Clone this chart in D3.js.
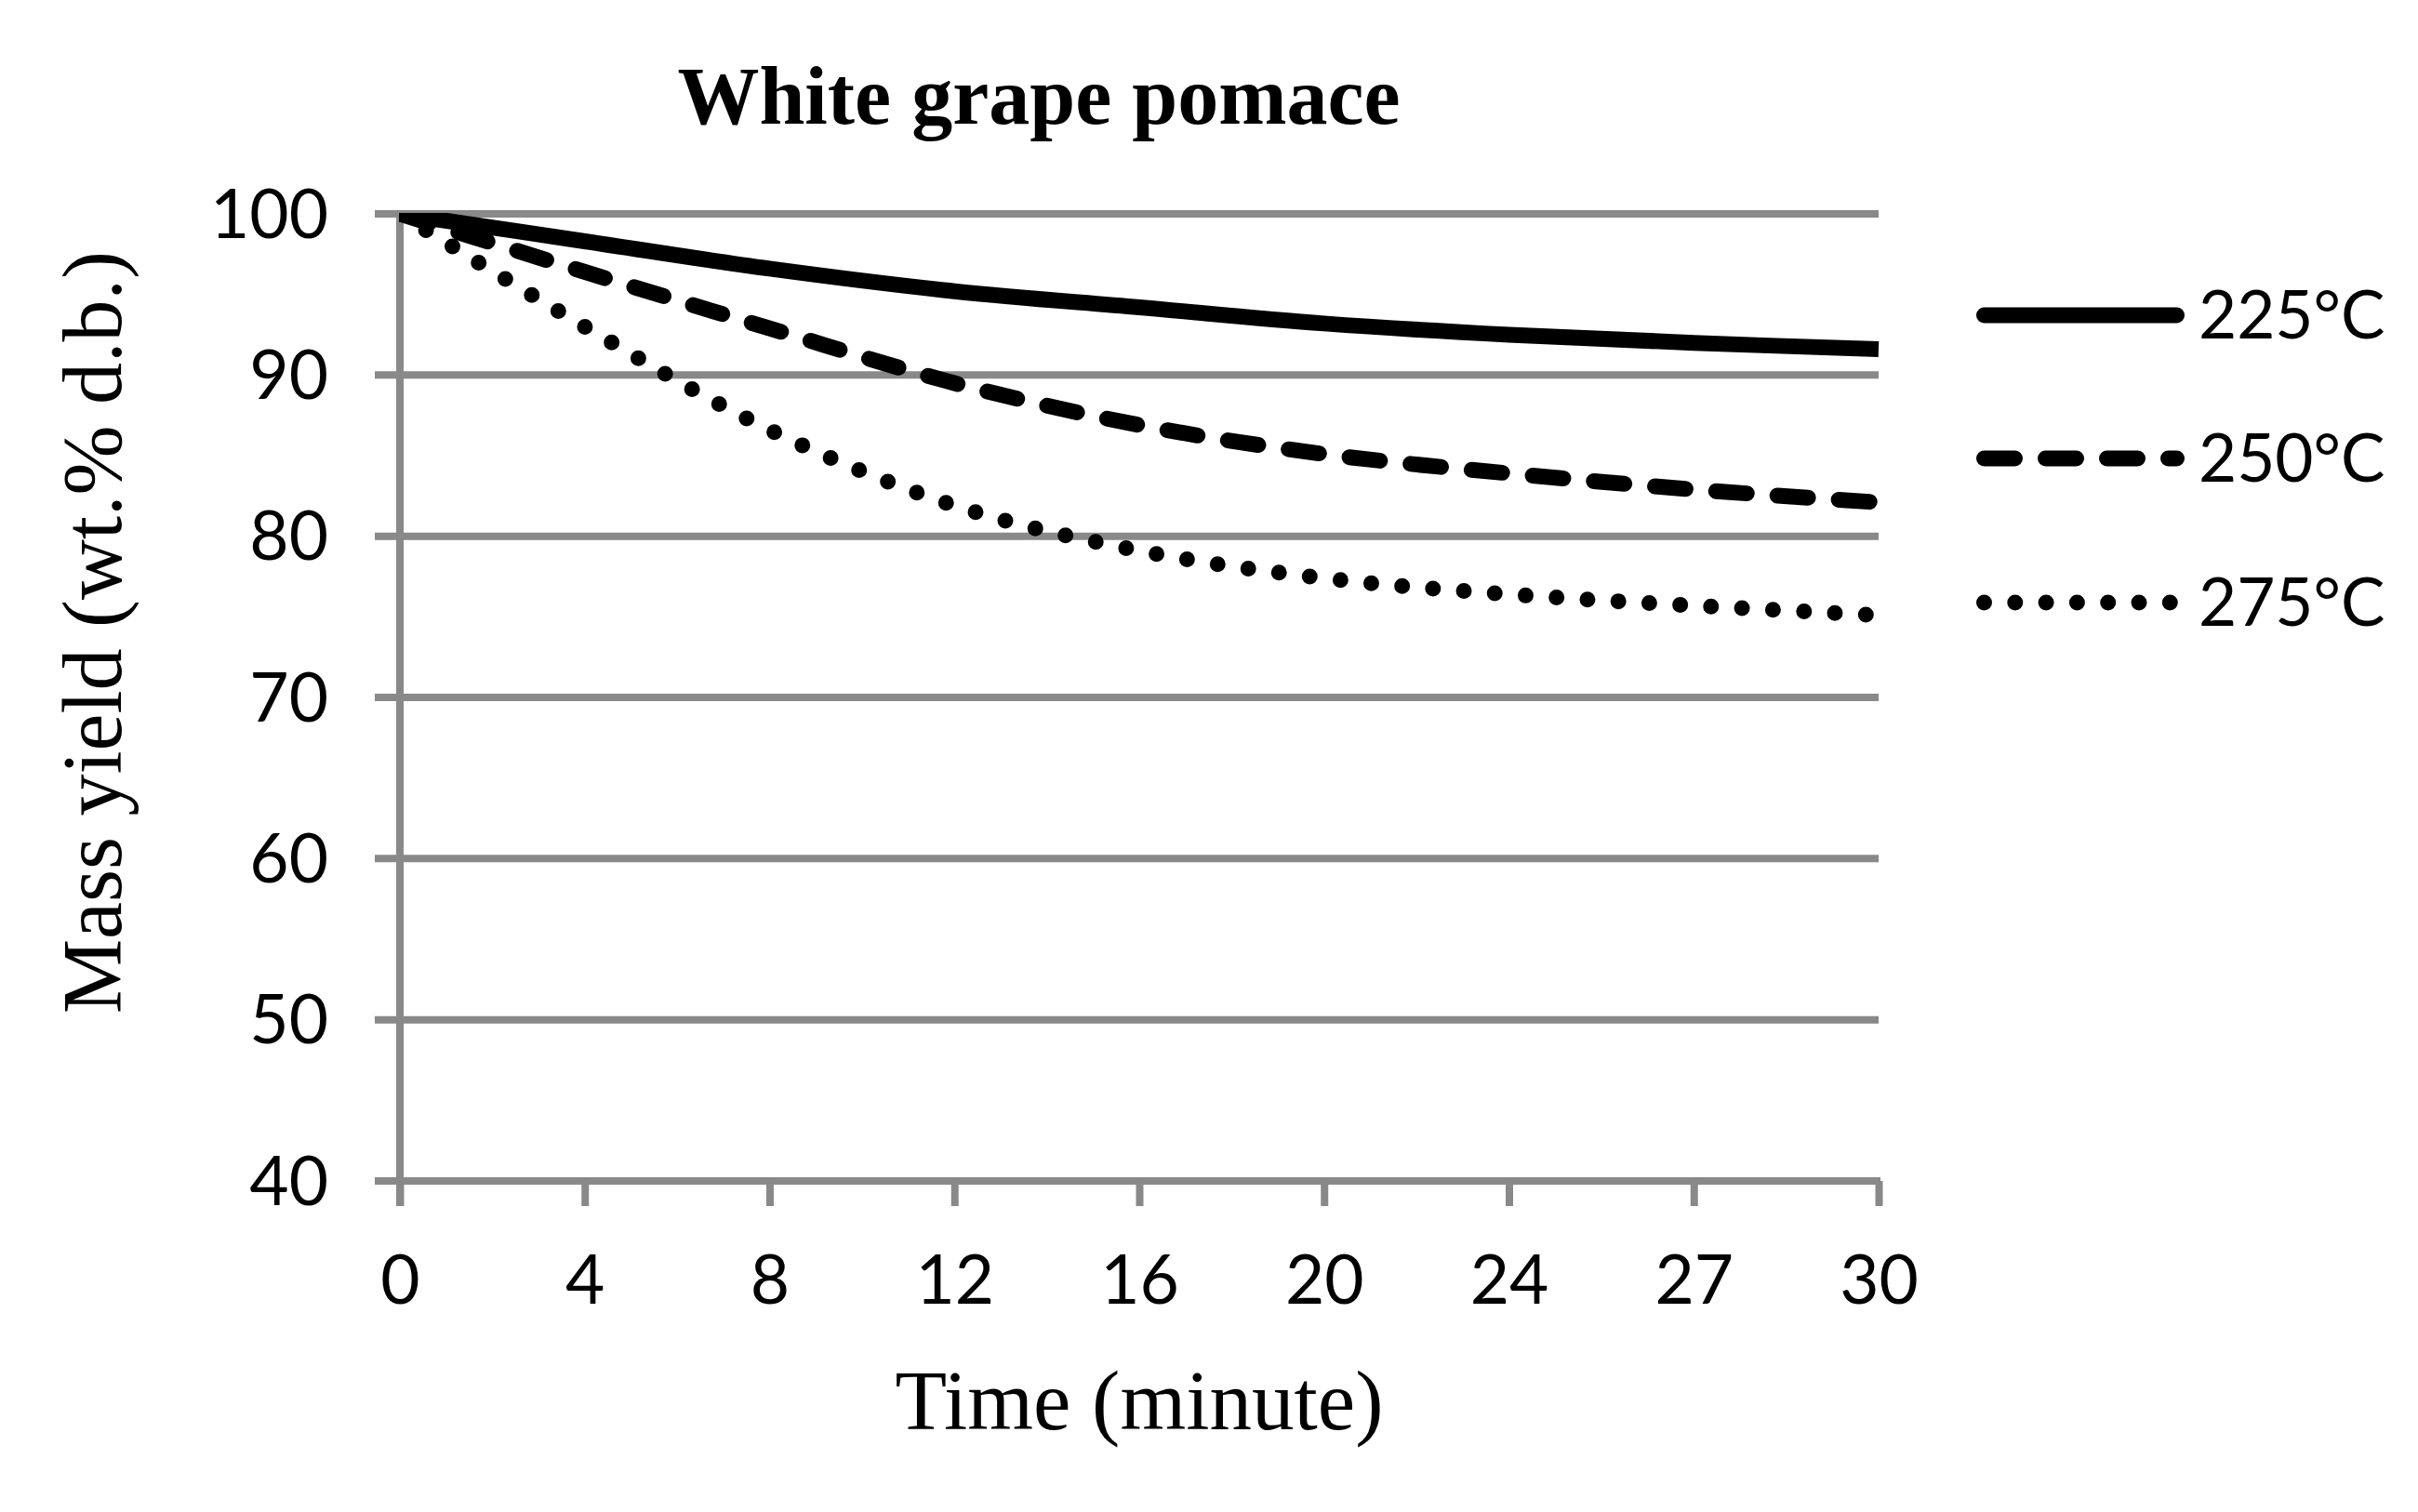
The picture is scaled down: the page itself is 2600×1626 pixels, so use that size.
<!DOCTYPE html>
<html>
<head>
<meta charset="utf-8">
<script src="https://cdn.jsdelivr.net/npm/d3@7"></script>
<style>
  html, body { margin: 0; padding: 0; background: #fff; }
  svg { display: block; }
</style>
</head>
<body>
<svg id="chart" width="2600" height="1626"></svg>
<script>
// ---- data ----
const categories = ["0", "4", "8", "12", "16", "20", "24", "27", "30"];
const series225 = [100, 98.3, 96.6, 95.2, 94.2, 93.2, 92.5, 92.0, 91.6];
const series250 = [100, 96.4, 92.9, 89.5, 86.9, 85.1, 83.9, 82.9, 82.1];
const series275 = [100, 93.0, 86.6, 81.9, 79.1, 77.4, 76.4, 75.7, 75.1];
const seriesNames = ["225°C", "250°C", "275°C"];
const yTicks = [40, 50, 60, 70, 80, 90, 100];
const titleText = "White grape pomace";
const xTitle = "Time (minute)";
const yTitle = "Mass yield (wt.% d.b.)";

// ---- layout ----
const svg = d3.select("#chart");
const plotL = 430, plotR = 2020, plotT = 230, plotB = 1270;
const gridColor = "#898989";
const tickFont = "Lato, 'Open Sans', sans-serif";
const serif = "'Liberation Serif', 'Times New Roman', serif";

const x = d3.scalePoint().domain(categories).range([plotL, plotR]);
const y = d3.scaleLinear().domain([40, 100]).range([plotB, plotT]);

// gridlines (extend left of axis as tick marks)
svg.append("g").selectAll("line").data(yTicks.filter(d => d !== 40)).join("line")
  .attr("x1", plotL - 27).attr("x2", plotR)
  .attr("y1", d => y(d)).attr("y2", d => y(d))
  .attr("stroke", gridColor).attr("stroke-width", 8);

// y axis
const yAxis = d3.axisLeft(y).tickValues(yTicks).tickSize(0).tickPadding(0);
const gy = svg.append("g").attr("transform", `translate(${plotL},0)`).call(yAxis);
gy.select(".domain").remove();
gy.selectAll("text")
  .attr("x", -77).attr("dy", null).attr("y", 25)
  .attr("font-family", tickFont).attr("font-size", 73).attr("fill", "#000");
svg.append("line")
  .attr("x1", plotL).attr("x2", plotL).attr("y1", plotT - 4).attr("y2", plotB + 27)
  .attr("stroke", gridColor).attr("stroke-width", 8);

// x axis
const xAxis = d3.axisBottom(x).tickSize(27).tickPadding(0);
const gx = svg.append("g").attr("transform", `translate(0,${plotB})`).call(xAxis);
gx.select(".domain").remove();
gx.selectAll(".tick line").attr("stroke", gridColor).attr("stroke-width", 8);
gx.selectAll("text")
  .attr("y", 132).attr("dy", null)
  .attr("font-family", tickFont).attr("font-size", 73).attr("fill", "#000");
svg.append("line")
  .attr("x1", plotL - 27).attr("x2", plotR + 2).attr("y1", plotB).attr("y2", plotB)
  .attr("stroke", gridColor).attr("stroke-width", 8);

// clip
svg.append("defs").append("clipPath").attr("id", "plotClip")
  .append("rect").attr("x", plotL - 1).attr("y", plotT - 1)
  .attr("width", plotR - plotL + 6).attr("height", plotB - plotT + 2);

const styles = [
  { dash: null },
  { dash: "33,33" },
  { dash: "0,33.3" }
];
const allSeries = [series225, series250, series275];

const line = d3.line()
  .x((d, i) => x(categories[i]))
  .y(d => y(d))
  .curve(d3.curveCatmullRom.alpha(0.5));

const gl = svg.append("g").attr("clip-path", "url(#plotClip)");
allSeries.forEach((s, k) => {
  gl.append("path")
    .attr("d", line(s))
    .attr("fill", "none")
    .attr("stroke", "#000")
    .attr("stroke-width", 17)
    .attr("stroke-linecap", k === 0 ? "butt" : "round")
    .attr("stroke-linejoin", "round")
    .attr("stroke-dasharray", styles[k].dash);
});

// legend
const legendY = [339, 493, 648];
seriesNames.forEach((name, k) => {
  svg.append("line")
    .attr("x1", 2133.5).attr("x2", 2340.5)
    .attr("y1", legendY[k]).attr("y2", legendY[k])
    .attr("stroke", "#000").attr("stroke-width", 17)
    .attr("stroke-linecap", "round")
    .attr("stroke-dasharray", styles[k].dash);
  svg.append("text")
    .attr("x", 2364).attr("y", legendY[k] + 25)
    .attr("font-family", tickFont).attr("font-size", 71)
    .text(name);
});

// titles
svg.append("text")
  .attr("x", 1117).attr("y", 133)
  .attr("text-anchor", "middle")
  .attr("font-family", serif).attr("font-weight", "bold").attr("font-size", 88)
  .text(titleText);

svg.append("text")
  .attr("x", 1225).attr("y", 1537)
  .attr("text-anchor", "middle")
  .attr("font-family", serif).attr("font-size", 91)
  .text(xTitle);

svg.append("text")
  .attr("transform", "translate(130,680) rotate(-90)")
  .attr("text-anchor", "middle")
  .attr("font-family", serif).attr("font-size", 90)
  .text(yTitle);
</script>
</body>
</html>
